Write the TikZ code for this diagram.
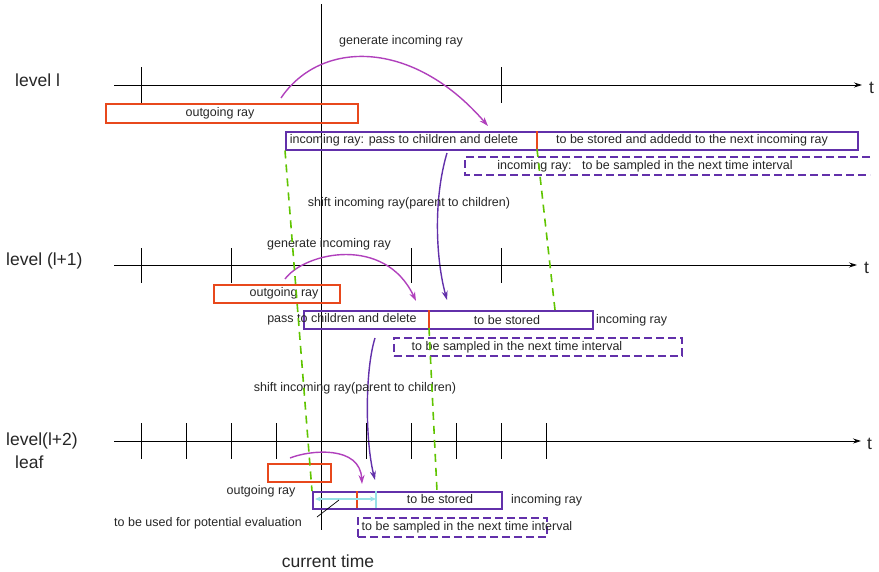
\documentclass[tikz,border=0pt]{standalone}
\usepackage{fontspec}
\setmainfont{Liberation Sans}
\usetikzlibrary{arrows.meta}
\definecolor{rayred}{RGB}{232,72,28}
\definecolor{raypurple}{RGB}{98,48,170}
\definecolor{genpink}{RGB}{176,64,188}
\definecolor{linkgreen}{RGB}{96,196,0}
\definecolor{evalcyan}{RGB}{150,225,230}

\begin{document}
\begin{tikzpicture}[x=1pt,y=-1pt,
  every node/.style={font=\fontsize{12.5}{14}\selectfont, inner sep=0pt, text=black!85},
  big/.style={font=\fontsize{17.5}{20}\selectfont},
  axis/.style={line width=0.8pt, -{Stealth[length=8pt,width=5pt]}},
  outbox/.style={draw=rayred, line width=1.5pt, anchor=north west},
  inbox/.style={draw=raypurple, line width=1.5pt, anchor=north west},
  nextbox/.style={draw=raypurple, line width=1.5pt, dash pattern=on 8pt off 4pt, anchor=north west},
  gen/.style={genpink, line width=1.4pt, -{Stealth[length=9pt,width=6pt]}},
  shiftray/.style={raypurple, line width=1.4pt, -{Stealth[length=9pt,width=6pt]}},
  link/.style={linkgreen, line width=1.6pt, dash pattern=on 8pt off 6pt},
  divider/.style={rayred, line width=1.3pt}]
\useasboundingbox (0,0) rectangle (879,571);

% current time
\coordinate (now0) at (321,4);
\coordinate (now1) at (321,530);
\draw[line width=0.8pt] (now0) -- (now1);
\node[big] (nowtxt) at (328,561) {current time};

% level l
\node[big, anchor=west] (levA) at (15,80) {level l};
\coordinate (axA0) at (114,85);
\coordinate (axA1) at (862,85);
\draw[axis] (axA0) -- (axA1);
\node[big, anchor=west] (tA) at (869,88) {t};
\foreach \x in {141,321,501}
  \draw[line width=0.8pt] (\x,67) -- (\x,103);
\node[outbox, minimum width=252pt, minimum height=19pt] (outA) at (105,103) {};
\node (outAtxt) at (220,113) {outgoing ray};
\node[inbox, minimum width=572pt, minimum height=18pt] (inA) at (285,131) {};
\coordinate (divA0) at (537,131);
\coordinate (divA1) at (537,149);
\draw[divider] (divA0) -- (divA1);
\node (inAtxt) at (404,140) {incoming ray: pass to children and delete};
\node (storeAtxt) at (692,140) {to be stored and addedd to the next incoming ray};
\draw[raypurple, line width=1.5pt, dash pattern=on 8pt off 4pt]
  (870,157) -- (465,157) -- (465,175) -- (870,175);
\node (nextAtxt) at (645,166) {incoming ray:\ \ \ to be sampled in the next time interval};
\coordinate (genA0) at (281,98);
\coordinate (genA1) at (488,126);
\draw[gen] (genA0) .. controls (320,40) and (412,38) .. (genA1);
\node (genAtxt) at (401,41) {generate incoming ray};
\coordinate (shiftA0) at (447,153);
\coordinate (shiftA1) at (447,300);
\draw[shiftray] (shiftA0) .. controls (433,200) and (436,260) .. (shiftA1);
\node (shiftAtxt) at (409,203) {shift incoming ray(parent to children)};

% level (l+1)
\node[big, anchor=west] (levB) at (6,261) {level (l+1)};
\coordinate (axB0) at (114,265);
\coordinate (axB1) at (857,265);
\draw[axis] (axB0) -- (axB1);
\node[big, anchor=west] (tB) at (864,268) {t};
\foreach \x in {141,231,321,411,501}
  \draw[line width=0.8pt] (\x,248) -- (\x,283);
\node[outbox, minimum width=126pt, minimum height=18pt] (outB) at (213,284) {};
\node (outBtxt) at (284,293) {outgoing ray};
\node[inbox, minimum width=289pt, minimum height=18pt] (inB) at (303,310) {};
\coordinate (divB0) at (429,310);
\coordinate (divB1) at (429,328);
\draw[divider] (divB0) -- (divB1);
\node (inBtxt) at (342,319) {pass to children and delete};
\node (storeBtxt) at (507,320) {to be stored};
\node[anchor=west] (rayBtxt) at (596,320) {incoming ray};
\node[nextbox, minimum width=288pt, minimum height=18pt] (nextB) at (393,337) {};
\node (nextBtxt) at (517,347) {to be sampled in the next time interval};
\coordinate (genB0) at (285,279);
\coordinate (genB1) at (416,301);
\draw[gen] (genB0) .. controls (305,252) and (385,235) .. (genB1);
\node (genBtxt) at (329,244) {generate incoming ray};
\coordinate (shiftB0) at (375,338);
\coordinate (shiftB1) at (375,480);
\draw[shiftray] (shiftB0) .. controls (365,370) and (365,440) .. (shiftB1);
\node (shiftBtxt) at (355,388) {shift incoming ray(parent to children)};

% level (l+2) leaf
\node[big, anchor=west] (levC) at (6,441) {level(l+2)};
\node[big, anchor=west] (leafC) at (15,462) {leaf};
\coordinate (axC0) at (114,441);
\coordinate (axC1) at (861,441);
\draw[axis] (axC0) -- (axC1);
\node[big, anchor=west] (tC) at (867,444) {t};
\foreach \x in {141,186,...,546}
  \draw[line width=0.8pt] (\x,423) -- (\x,459);
\node[outbox, minimum width=63pt, minimum height=18pt] (outC) at (267,463) {};
\node (outCtxt) at (261,491) {outgoing ray};
\node[inbox, minimum width=189pt, minimum height=17pt] (inC) at (312,491) {};
\coordinate (divC0) at (357,491);
\coordinate (divC1) at (357,508);
\draw[divider] (divC0) -- (divC1);
\coordinate (evalC0) at (315,499);
\coordinate (evalC1) at (376,499);
\draw[evalcyan, line width=1.2pt] (376,491) -- (376,508);
\draw[evalcyan, line width=1.2pt, {Stealth[length=6pt,width=5pt]}-{Stealth[length=6pt,width=5pt]}] (evalC0) -- (evalC1);
\node (storeCtxt) at (440,499) {to be stored};
\node[anchor=west] (rayCtxt) at (511,500) {incoming ray};
\node[nextbox, minimum width=189pt, minimum height=19pt] (nextC) at (357,517) {};
\node (nextCtxt) at (467,527) {to be sampled in the next time interval};
\node (evalCtxt) at (208,523) {to be used for potential evaluation};
\coordinate (ptrC0) at (317,517);
\coordinate (ptrC1) at (339,500);
\draw[line width=0.7pt] (ptrC0) -- (ptrC1);
\coordinate (genC0) at (290,458);
\coordinate (genC1) at (362,484);
\draw[gen] (genC0) .. controls (310,450) and (360,445) .. (genC1);

% links between levels
\coordinate (tgtB) at (555,310);
\coordinate (tgtC) at (437,491);
\draw[link] (inA.south west) -- (inC.north west);
\draw[link] (divA1) -- (tgtB);
\draw[link] (divB1) -- (tgtC);
\end{tikzpicture}
\end{document}
